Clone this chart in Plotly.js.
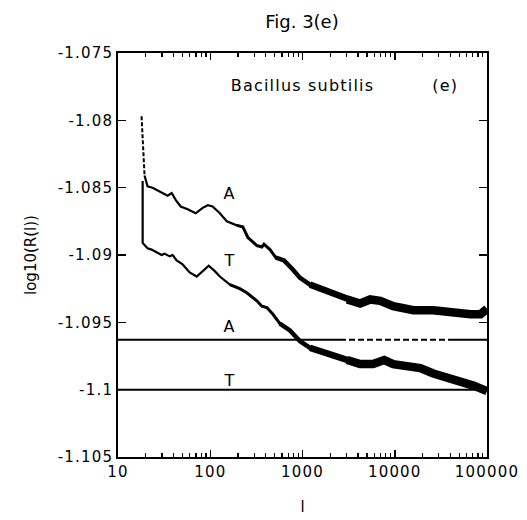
<!DOCTYPE html>
<html><head><meta charset="utf-8">
<script src="https://cdn.plot.ly/plotly-3.0.1.min.js"></script>
<style>
html,body{margin:0;padding:0;background:#fff;}
#plot{width:527px;height:520px;}
#plot svg .xtick text, #plot svg .ytick text, #plot svg .annotation text{letter-spacing:1.2px;}
</style>
</head><body><div id="plot"></div>
<script>
// Curve A (adenine) : l and log10(R(l))
const aDashL = [18.0, 18.6, 19.4];
const aDashY = [-1.0797, -1.0820, -1.0841];
const aL = [19.4, 20.9, 23.7, 28.2, 34.5, 38.2, 42.2, 47.8, 56.9, 69.5, 82.8, 94, 106, 127, 151, 194, 225, 256, 320, 363, 382, 444, 515, 630, 789, 940, 1207, 1550, 2147, 3048, 4217, 5416, 6956, 9630, 15900, 26200, 43200, 66200, 85000, 100000];
const aY = [-1.0841, -1.0849, -1.0850, -1.0853, -1.0856, -1.0854, -1.0859, -1.0864, -1.0866, -1.0869, -1.0865, -1.0863, -1.0864, -1.0869, -1.0875, -1.0878, -1.0879, -1.0887, -1.0893, -1.0894, -1.0892, -1.0896, -1.0902, -1.0904, -1.0911, -1.0917, -1.0922, -1.0925, -1.0928, -1.0933, -1.0936, -1.0933, -1.0934, -1.0938, -1.0941, -1.0941, -1.0943, -1.0944, -1.0944, -1.0940];
// Curve T (thymine)
const tL = [18.5, 18.5, 20.9, 23.1, 26.2, 29.7, 32.0, 36.3, 39.1, 43.2, 50.2, 59.8, 71.3, 82.8, 96.3, 112, 127, 163, 209, 249, 320, 363, 411, 478, 569, 731, 940, 1207, 1631, 2256, 3048, 4217, 5830, 6956, 7690, 9630, 13700, 18900, 26200, 37200, 51500, 71200, 100000];
const tY = [-1.0845, -1.0891, -1.0895, -1.0896, -1.0898, -1.0900, -1.0899, -1.0901, -1.0900, -1.0904, -1.0907, -1.0913, -1.0916, -1.0912, -1.0908, -1.0912, -1.0916, -1.0922, -1.0925, -1.0928, -1.0934, -1.0938, -1.0939, -1.0944, -1.0951, -1.0956, -1.0964, -1.0969, -1.0972, -1.0975, -1.0978, -1.0981, -1.0981, -1.0979, -1.0978, -1.0981, -1.0983, -1.0984, -1.0988, -1.0991, -1.0993, -1.0997, -1.1001];
// Random-sequence reference levels
const levelValues = [-1.0963, -1.1000];
const levelRange = [10, 100000];
const aLevelDashFrom = 2550, aLevelDashTo = 42700;
// Axis ticks
const xTickVals = [10, 100, 1000, 10000, 100000];
const xTickText = ['10', '100', '1000', '10000', '100000'];
const yTickVals = [-1.075, -1.08, -1.085, -1.09, -1.095, -1.1, -1.105];
const yTickText = ['-1.075', '-1.08', '-1.085', '-1.09', '-1.095', '-1.1', '-1.105'];
// Labels
const curveLabels = [
  {text: 'A', l: 163, y: -1.0854},
  {text: 'T', l: 163, y: -1.0904},
  {text: 'A', l: 163, y: -1.0953},
  {text: 'T', l: 163, y: -1.0993}
];

const FONT = 'DejaVu Sans, Liberation Sans, Arial, sans-serif';
const breaks = [200, 600, 1500, 4000];
const widths = [2.2, 3, 4.5, 6.5, 8.5];

function segments(L, Y) {
  const out = [];
  const edges = [0].concat(breaks).concat([Infinity]);
  for (let s = 0; s < widths.length; s++) {
    const xs = [], ys = [];
    for (let i = 0; i < L.length; i++) {
      const inside = L[i] >= edges[s] && L[i] <= edges[s + 1];
      const prevEdge = i + 1 < L.length && L[i] < edges[s] && L[i + 1] >= edges[s];
      const nextEdge = i > 0 && L[i] > edges[s + 1] && L[i - 1] <= edges[s + 1];
      if (inside || prevEdge || nextEdge) { xs.push(L[i]); ys.push(Y[i]); }
    }
    if (xs.length > 1) out.push({x: xs, y: ys, mode: 'lines', line: {color: '#000', width: widths[s]}, hoverinfo: 'skip', showlegend: false});
  }
  return out;
}

const traces = [];
traces.push({x: aDashL, y: aDashY, mode: 'lines', line: {color: '#000', width: 2, dash: '4px,2px'}, showlegend: false});
segments(aL, aY).forEach(t => traces.push(t));
segments(tL, tY).forEach(t => traces.push(t));
// A level: solid, dashed, solid
traces.push({x: [levelRange[0], aLevelDashFrom], y: [levelValues[0], levelValues[0]], mode: 'lines', line: {color: '#000', width: 2}, showlegend: false});
traces.push({x: [aLevelDashFrom, aLevelDashTo], y: [levelValues[0], levelValues[0]], mode: 'lines', line: {color: '#000', width: 2, dash: '6px,3px'}, showlegend: false});
traces.push({x: [aLevelDashTo, levelRange[1]], y: [levelValues[0], levelValues[0]], mode: 'lines', line: {color: '#000', width: 2}, showlegend: false});
// T level drawn on the overlay axis that carries the minor ticks
traces.push({x: levelRange, y: [levelValues[1], levelValues[1]], xaxis: 'x2', mode: 'lines', line: {color: '#000', width: 2}, showlegend: false});

const minorVals = [];
for (let d = 10; d < 100000; d *= 10) for (let k = 2; k <= 9; k++) minorVals.push(d * k);

const annotations = curveLabels.map(c => ({x: Math.log10(c.l), y: c.y, text: c.text, showarrow: false, font: {family: FONT, size: 16, color: '#000'}, xref: 'x', yref: 'y'}));
annotations.push({x: Math.log10(990), y: -1.0774, text: 'Bacillus subtilis', showarrow: false, font: {family: FONT, size: 16, color: '#000'}});
annotations.push({x: Math.log10(35400), y: -1.0774, text: '(e)', showarrow: false, font: {family: FONT, size: 16, color: '#000'}});

const layout = {
  width: 527, height: 520,
  margin: {l: 118, r: 40, t: 53, b: 63},
  paper_bgcolor: '#fff', plot_bgcolor: '#fff',
  font: {family: FONT, size: 15, color: '#000'},
  title: {text: 'Fig. 3(e)', x: 0.573, xanchor: 'center', y: 0.958, yanchor: 'middle', font: {family: FONT, size: 18, color: '#000'}},
  showlegend: false,
  xaxis: {
    type: 'log', range: [1, 5], tickmode: 'array', tickvals: xTickVals, ticktext: xTickText,
    ticks: 'inside', ticklen: 7, tickwidth: 1.5, tickcolor: '#000',
    showline: true, linecolor: '#000', linewidth: 1.8, mirror: 'ticks', showgrid: false, zeroline: false,
    title: {text: 'l', standoff: 22, font: {family: FONT, size: 15, color: '#000'}}
  },
  xaxis2: {
    type: 'log', range: [1, 5], overlaying: 'x', side: 'bottom', anchor: 'y',
    tickmode: 'array', tickvals: minorVals, showticklabels: false,
    ticks: 'inside', ticklen: 4, tickwidth: 1.3, tickcolor: '#000',
    showline: false, mirror: 'ticks', showgrid: false, zeroline: false
  },
  yaxis: {
    range: [-1.105, -1.075], tickmode: 'array', tickvals: yTickVals, ticktext: yTickText,
    ticks: 'inside', ticklen: 8, tickwidth: 1.5, tickcolor: '#000',
    showline: true, linecolor: '#000', linewidth: 1.8, mirror: 'ticks', showgrid: false, zeroline: false,
    title: {text: 'log10(R(l))', standoff: 24, font: {family: FONT, size: 15, color: '#000'}}
  },
  annotations: annotations
};
Plotly.newPlot('plot', traces, layout, {staticPlot: true, displayModeBar: false});
</script></body></html>
